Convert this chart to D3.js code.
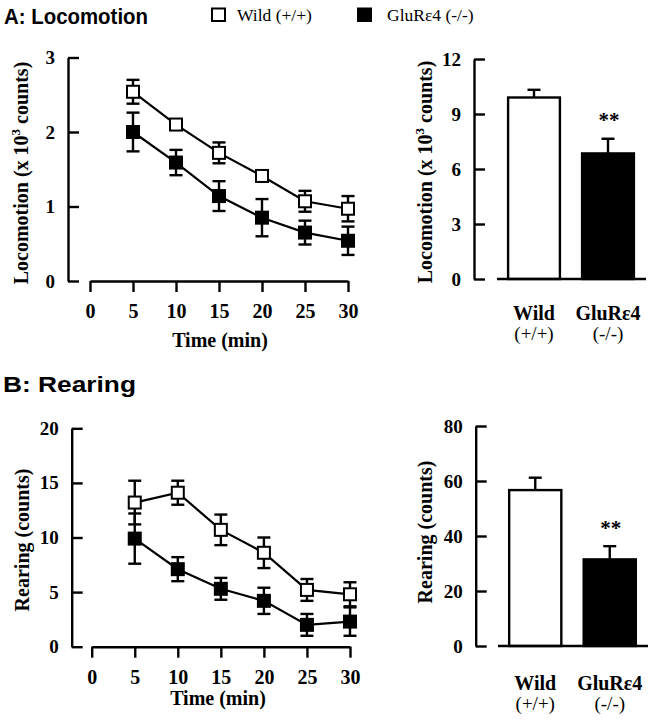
<!DOCTYPE html>
<html><head><meta charset="utf-8">
<script src="https://cdn.jsdelivr.net/npm/d3@7"></script>
<style>
html,body{margin:0;padding:0;background:#fff;}
svg{display:block;}
.serif{font-family:"Liberation Serif","Times New Roman",serif;}
</style></head>
<body>
<svg id="c" width="652" height="720"></svg>
<script>
// ---- data ----
const times = [5, 10, 15, 20, 25, 30];
const xTicks = [0, 5, 10, 15, 20, 25, 30];
const locoWild = [2.54, 2.10, 1.72, 1.41, 1.07, 0.97];
const locoWildErr = [0.16, 0.05, 0.14, 0.07, 0.14, 0.17];
const locoKO = [2.00, 1.59, 1.14, 0.85, 0.65, 0.54];
const locoKOErr = [0.26, 0.17, 0.20, 0.25, 0.16, 0.19];
const rearWild = [13.2, 14.1, 10.7, 8.6, 5.2, 4.8];
const rearWildErr = [2.0, 1.1, 1.4, 1.4, 1.0, 1.1];
const rearKO = [9.9, 7.1, 5.3, 4.2, 2.0, 2.3];
const rearKOErr = [2.3, 1.1, 1.0, 1.2, 1.0, 1.3];
const groups = ["Wild", "GluRε4"];
const groupSub = ["(+/+)", "(-/-)"];
const locoTotal = [9.9, 6.85];
const locoTotalErr = [0.42, 0.80];
const rearTotal = [56.7, 31.5];
const rearTotalErr = [4.5, 4.8];
const locoTicks = [0, 1, 2, 3];
const locoTotalTicks = [0, 3, 6, 9, 12];
const rearTicks = [0, 5, 10, 15, 20];
const rearTotalTicks = [0, 20, 40, 60, 80];

const svg = d3.select("#c");
const SERIF = '"Liberation Serif","Times New Roman",serif';
const SANS = '"Liberation Sans",Arial,Helvetica,sans-serif';
const SW = 2.4;

// titles
svg.append("text").attr("x", 4).attr("y", 24).attr("font-family", SANS).attr("font-weight", "bold")
  .attr("font-size", 22).attr("textLength", 144).attr("lengthAdjust", "spacingAndGlyphs").text("A: Locomotion");
svg.append("text").attr("x", 3).attr("y", 392).attr("font-family", SANS).attr("font-weight", "bold")
  .attr("font-size", 22).attr("textLength", 133).attr("lengthAdjust", "spacingAndGlyphs").text("B: Rearing");

// legend
svg.append("rect").attr("x", 212).attr("y", 8.5).attr("width", 13).attr("height", 12.5)
  .attr("fill", "#fff").attr("stroke", "#000").attr("stroke-width", 2);
svg.append("text").attr("x", 237).attr("y", 20.5).attr("font-family", SERIF).attr("font-size", 17.5).text("Wild (+/+)");
svg.append("rect").attr("x", 357).attr("y", 7.5).attr("width", 15).attr("height", 14.5).attr("fill", "#000");
svg.append("text").attr("x", 387).attr("y", 20.5).attr("font-family", SERIF).attr("font-size", 17.5).text("GluRε4 (-/-)");

function styleAxis(g, fs) {
  g.selectAll("path.domain").attr("stroke-width", SW).attr("stroke", "#000");
  g.selectAll(".tick line").attr("stroke-width", SW).attr("stroke", "#000");
  g.selectAll(".tick text").attr("font-family", SERIF).attr("font-weight", "bold").attr("font-size", fs).attr("fill", "#000");
}

function yLabel(xb, yc, parts) {
  const t = svg.append("text").attr("transform", `translate(${xb},${yc}) rotate(-90)`)
    .attr("text-anchor", "middle").attr("font-family", SERIF).attr("font-weight", "bold").attr("font-size", 20);
  parts.forEach(p => {
    const s = t.append("tspan").text(p.t);
    if (p.sup) s.attr("font-size", 13).attr("dy", -8);
    if (p.after) s.attr("dy", 8);
  });
}

function linePanel(o) {
  const x = d3.scaleLinear().domain([0, 30]).range(o.xr);
  const y = d3.scaleLinear().domain([o.yTicks[0], o.yTicks[o.yTicks.length - 1]]).range(o.yr);
  const gy = svg.append("g").attr("transform", `translate(${o.axX},0)`)
    .call(d3.axisLeft(y).tickValues(o.yTicks).tickSize(-11).tickSizeOuter(0).tickPadding(13).tickFormat(d3.format("d")));
  styleAxis(gy, 19);
  const gx = svg.append("g").attr("transform", `translate(0,${o.axY})`)
    .call(d3.axisBottom(x).tickValues(xTicks).tickSize(11).tickSizeOuter(0).tickPadding(12).tickFormat(d3.format("d")));
  styleAxis(gx, 20);
  svg.append("text").attr("x", o.xLabX).attr("y", o.xLabY).attr("text-anchor", "middle")
    .attr("font-family", SERIF).attr("font-weight", "bold").attr("font-size", 20).text("Time (min)");

  const series = [
    {v: o.ko, e: o.koErr, fill: "#000"},
    {v: o.wild, e: o.wildErr, fill: "#fff"}
  ];
  const cap = 6.5;
  series.forEach(s => {
    const g = svg.append("g");
    s.v.forEach((v, i) => {
      const cx = x(times[i]);
      const y1 = y(v + s.e[i]), y2 = y(v - s.e[i]);
      g.append("line").attr("x1", cx).attr("x2", cx).attr("y1", y1).attr("y2", y2).attr("stroke", "#000").attr("stroke-width", SW);
      g.append("line").attr("x1", cx - cap).attr("x2", cx + cap).attr("y1", y1).attr("y2", y1).attr("stroke", "#000").attr("stroke-width", SW);
      g.append("line").attr("x1", cx - cap).attr("x2", cx + cap).attr("y1", y2).attr("y2", y2).attr("stroke", "#000").attr("stroke-width", SW);
    });
  });
  series.forEach(s => {
    svg.append("path").datum(s.v)
      .attr("d", d3.line().x((d, i) => x(times[i])).y(d => y(d)))
      .attr("fill", "none").attr("stroke", "#000").attr("stroke-width", 2.2);
  });
  const ms = 12;
  series.forEach(s => {
    svg.append("g").selectAll("rect").data(s.v).join("rect")
      .attr("x", (d, i) => x(times[i]) - ms / 2).attr("y", d => y(d) - ms / 2)
      .attr("width", ms).attr("height", ms)
      .attr("fill", s.fill).attr("stroke", "#000").attr("stroke-width", 2);
  });
}

function barPanel(o) {
  const y = d3.scaleLinear().domain([o.yTicks[0], o.yTicks[o.yTicks.length - 1]]).range(o.yr);
  const xb = d3.scaleBand().domain(groups).range(o.br).paddingInner(0.3).paddingOuter(0.15);
  const gy = svg.append("g").attr("transform", `translate(${o.axX},0)`)
    .call(d3.axisLeft(y).tickValues(o.yTicks).tickSize(-11).tickSizeOuter(0).tickPadding(13).tickFormat(d3.format("d")));
  styleAxis(gy, 19);
  const fills = ["#fff", "#000"];
  groups.forEach((gname, i) => {
    const bx = xb(gname), bw = xb.bandwidth();
    const top = y(o.v[i]);
    svg.append("rect").attr("x", bx).attr("y", top).attr("width", bw).attr("height", y(0) - top)
      .attr("fill", fills[i]).attr("stroke", "#000").attr("stroke-width", SW);
    const cx = bx + bw / 2, ye = y(o.v[i] + o.e[i]);
    svg.append("line").attr("x1", cx).attr("x2", cx).attr("y1", top).attr("y2", ye).attr("stroke", "#000").attr("stroke-width", SW);
    svg.append("line").attr("x1", cx - 6.5).attr("x2", cx + 6.5).attr("y1", ye).attr("y2", ye).attr("stroke", "#000").attr("stroke-width", SW);
    const lt = svg.append("text").attr("x", cx).attr("text-anchor", "middle").attr("font-family", SERIF)
      .attr("font-weight", "bold").attr("font-size", 20).attr("y", o.labY).text(gname);
    svg.append("text").attr("x", cx).attr("text-anchor", "middle").attr("font-family", SERIF)
      .attr("font-size", 19).attr("y", o.labY + 20).text(groupSub[i]);
    if (i === 1) {
      svg.append("text").attr("x", cx + 1).attr("y", ye - 11.5).attr("text-anchor", "middle")
        .attr("font-family", SERIF).attr("font-weight", "bold").attr("font-size", 21).text("**");
    }
  });
  svg.append("line").attr("x1", o.br[0]).attr("x2", o.br[1] + 1).attr("y1", y(0)).attr("y2", y(0))
    .attr("stroke", "#000").attr("stroke-width", SW);
}

// Panel A
linePanel({xr: [90, 348], yr: [281, 57.5], yTicks: locoTicks, axX: 68, axY: 281,
  xLabX: 220, xLabY: 347, wild: locoWild, wildErr: locoWildErr, ko: locoKO, koErr: locoKOErr});
yLabel(28, 173, [{t: "Locomotion (x 10"}, {t: "3", sup: true}, {t: " counts)", after: true}]);

barPanel({yr: [279, 59], yTicks: locoTotalTicks, axX: 474, br: [497, 645],
  v: locoTotal, e: locoTotalErr, labY: 320});
yLabel(432, 172, [{t: "Locomotion (x 10"}, {t: "3", sup: true}, {t: " counts)", after: true}]);

// Panel B
linePanel({xr: [91.7, 350], yr: [646.7, 428.3], yTicks: rearTicks, axX: 71.7, axY: 646.7,
  xLabX: 218, xLabY: 705, wild: rearWild, wildErr: rearWildErr, ko: rearKO, koErr: rearKOErr});
yLabel(29, 540, [{t: "Rearing (counts)"}]);

barPanel({yr: [646, 426], yTicks: rearTotalTicks, axX: 475.7, br: [498, 647],
  v: rearTotal, e: rearTotalErr, labY: 690});
yLabel(432, 532, [{t: "Rearing (counts)"}]);
</script>
</body></html>
